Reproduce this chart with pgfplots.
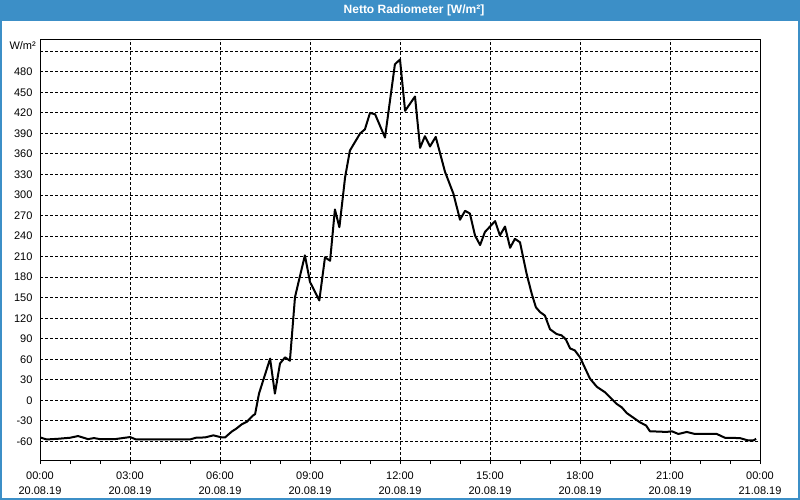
\documentclass[border=0pt]{standalone}
\usepackage{fontspec}
\setmainfont{Liberation Sans}
\usepackage{pgfplots}
\pgfplotsset{compat=1.18}
\definecolor{titleblue}{HTML}{3C8FC7}
\begin{document}
\begin{tikzpicture}
\fill[white] (0bp,0bp) rectangle (800bp,500bp);
\path[use as bounding box] (0bp,0bp) rectangle (800bp,500bp);
\fill[titleblue] (0bp,479bp) rectangle (800bp,500bp);
\draw[titleblue, line width=2bp] (1bp,1bp) rectangle (799bp,499bp);
\node[text=white, font=\bfseries\fontsize{12bp}{14bp}\selectfont] at (414bp,490bp) {Netto Radiometer [W/m²]};
\node[anchor=east, inner sep=0pt, font=\fontsize{11bp}{13bp}\selectfont] at (36bp,454bp) {W/m²};
\begin{axis}[at={(40bp,40bp)}, anchor=south west, width=720bp, height=420bp, scale only axis,
 xmin=0, xmax=24, ymin=-87, ymax=526.5,
 axis line style={line width=1bp},
 xtick={0,3,...,24}, minor xtick={1,2,4,5,7,8,10,11,13,14,16,17,19,20,22,23},
 xtick pos=bottom, tick align=outside, major tick length=4bp, minor tick length=4bp,
 xtick style={black, line width=1bp},
 ytick={-60,-30,...,510}, ytick style={draw=none},
 yticklabels={-60,-30,0,30,60,90,120,150,180,210,240,270,300,330,360,390,420,450,480,{}},
 xticklabels={{00:00\\20.08.19},{03:00\\20.08.19},{06:00\\20.08.19},{09:00\\20.08.19},{12:00\\20.08.19},{15:00\\20.08.19},{18:00\\20.08.19},{21:00\\20.08.19},{00:00\\21.08.19}},
 grid=major, major grid style={black, line width=1bp, dash pattern=on 3bp off 2bp},
 ticklabel style={font=\fontsize{11bp}{15bp}\selectfont},
 xticklabel style={align=center, yshift=-4bp},
]
\addplot[black, line width=2bp, line join=round] coordinates {
(0,-54) (0.22,-57) (0.6,-56) (1.0,-54.5) (1.27,-52) (1.6,-56.5) (1.8,-55) (2.0,-56.5) (2.5,-56.5)
(3.0,-53.5) (3.2,-57) (4.0,-57) (5.0,-57) (5.2,-54.5) (5.5,-54) (5.78,-51) (6.06,-54) (6.17,-54)
(6.39,-45.5) (6.55,-41) (6.72,-35) (6.9,-31) (7.1,-22) (7.17,-20) (7.3,10) (7.67,61) (7.83,10)
(8.0,54) (8.17,63) (8.33,58) (8.5,151) (8.83,212) (9.0,173) (9.31,146) (9.5,209) (9.67,204)
(9.83,279) (9.98,253) (10.17,326) (10.33,365) (10.67,390) (10.83,396) (11.0,420) (11.17,418) (11.5,384)
(11.83,491) (12.0,498) (12.17,423) (12.5,444) (12.67,369) (12.83,386) (13.0,371) (13.19,385)
(13.5,334) (13.78,302) (14.0,264) (14.17,277) (14.33,273) (14.5,241) (14.67,227) (14.83,246)
(15.0,254) (15.17,262) (15.33,241) (15.5,254) (15.67,223) (15.83,236) (16.0,231) (16.22,185)
(16.39,156) (16.53,136) (16.67,129) (16.83,124) (17.0,104) (17.22,97) (17.39,95) (17.53,89)
(17.67,76) (17.83,73) (18.0,63) (18.33,32) (18.56,20) (18.83,12) (19.22,-5) (19.39,-10)
(19.56,-18.5) (20.0,-32) (20.2,-36.5) (20.33,-45) (20.89,-46) (21.06,-45) (21.28,-49) (21.56,-46)
(21.83,-49) (22.56,-49) (22.83,-54.5) (23.33,-55) (23.61,-58.5) (23.78,-58.5) (23.87,-56)
};
\end{axis}
\end{tikzpicture}
\end{document}
